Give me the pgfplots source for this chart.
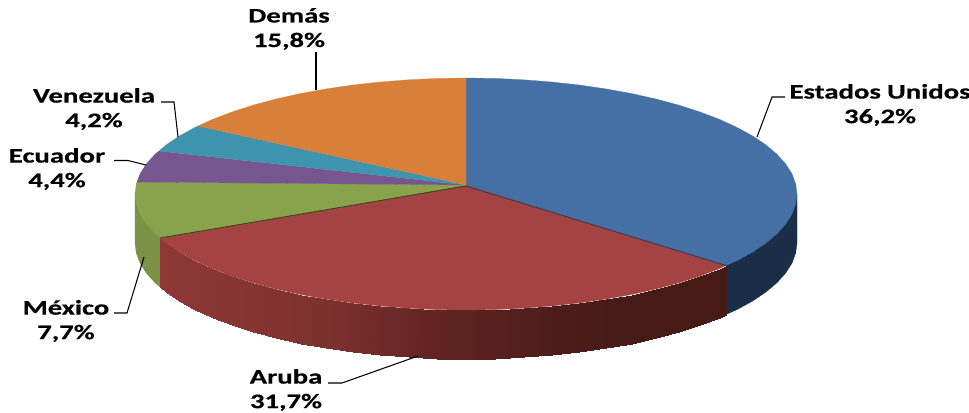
\documentclass[border=0pt]{standalone}
\usepackage{fontspec}
\setmainfont[FakeStretch=1.39,BoldFeatures={FakeBold=0.4}]{Carlito}
\usepackage{pgfplots}
\pgfplotsset{compat=1.18}
\definecolor{cblue}{RGB}{68,112,165}
\definecolor{cblueside}{RGB}{26,46,71}
\definecolor{cred}{RGB}{165,67,66}
\definecolor{cgreen}{RGB}{137,163,76}
\definecolor{cgreenside}{RGB}{122,145,70}
\definecolor{cpurple}{RGB}{117,86,142}
\definecolor{cteal}{RGB}{63,149,174}
\definecolor{corange}{RGB}{216,128,58}
\tikzset{lbl/.style={font=\bfseries\fontsize{15.5}{18.4}\selectfont,align=center,text=black,inner sep=0pt}}
\begin{document}
\begin{tikzpicture}
\useasboundingbox (0,0) rectangle (726.75pt,309pt);
\begin{axis}[
    at={(0,0)}, anchor=south west,
    width=726.75pt, height=309pt, scale only axis,
    xmin=0, xmax=969, ymin=0, ymax=412,
    y dir=reverse,
    hide axis,
    no markers,
    clip=false,
    colormap={sidered}{rgb255(160pt)=(142,56,54) rgb255(330pt)=(124,49,47) rgb255(420pt)=(100,37,35) rgb255(560pt)=(76,28,26) rgb255(650pt)=(69,26,23) rgb255(726pt)=(69,26,23)},
]
% side walls
\addplot[fill=cblueside,draw=cblueside,line width=0.2pt] coordinates {
(797,194)(797,243)(795.7,253.1)(792,263.1)(785.7,273)(777,282.7)(766,292)(752.7,301)(737.2,309.5)(726,314.5)(726,265.5)
} --cycle;
\addplot[fill=cgreenside,draw=cgreenside,line width=0.2pt] coordinates {
(135,194)(135,243)(136.3,253)(140,263)(146.3,273)(155,282.7)(160,287)(160,238)
} --cycle;
\addplot[surf,shader=interp,mesh/rows=2,point meta=x,point meta min=160,point meta max=726] table {
x y
160 238
166 243
179.3 252
194.8 260.5
212.5 268.6
231.9 276
253.2 282.9
276.1 289
300.5 294.5
326.1 299.1
352.8 303
380.3 306
408.5 308.2
437.1 309.6
466 310
494.9 309.6
523.5 308.2
551.7 306
579.2 303
605.9 299.1
631.5 294.5
655.9 289
678.8 282.9
700.1 276
719.5 268.6
726 265.5
160 287
166 292
179.3 301
194.8 309.5
212.5 317.6
231.9 325
253.2 331.9
276.1 338
300.5 343.5
326.1 348.1
352.8 352
380.3 355
408.5 357.2
437.1 358.6
466 359
494.9 358.6
523.5 357.2
551.7 355
579.2 352
605.9 348.1
631.5 343.5
655.9 338
678.8 331.9
700.1 325
719.5 317.6
726 314.5
};
% top face
\addplot[fill=cblue,draw=cblue,line width=0.2pt] coordinates {
(466,185)(466,78)(494.9,78.4)(523.5,79.8)(551.7,82)(579.2,85)(605.9,88.9)(631.5,93.5)(655.9,99)(678.8,105.1)(700.1,112)(719.5,119.4)(737.2,127.5)(752.7,136)(766,145)(777,154.3)(785.7,164)(792,173.9)(795.7,183.9)(797,194)(795.7,204.1)(792,214.1)(785.7,224)(777,233.7)(766,243)(752.7,252)(737.2,260.5)(726,265.5)
} --cycle;
\addplot[fill=cred,draw=cred,line width=0.2pt] coordinates {
(466,185)(726,265.5)(719.5,268.6)(700.1,276)(678.8,282.9)(655.9,289)(631.5,294.5)(605.9,299.1)(579.2,303)(551.7,306)(523.5,308.2)(494.9,309.6)(466,310)(437.1,309.6)(408.5,308.2)(380.3,306)(352.8,303)(326.1,299.1)(300.5,294.5)(276.1,289)(253.2,282.9)(231.9,276)(212.5,268.6)(194.8,260.5)(179.3,252)(166,243)(160,238)
} --cycle;
\addplot[fill=cgreen,draw=cgreen,line width=0.2pt] coordinates {
(466,185)(160,238)(155,233.7)(146.3,224)(140,214)(136.3,204)(135,194)(136.3,183.9)(137,182)
} --cycle;
\addplot[fill=cpurple,draw=cpurple,line width=0.2pt] coordinates {
(466,185)(137,182)(140,173.9)(146.3,164)(155,154.3)(159,151)
} --cycle;
\addplot[fill=cteal,draw=cteal,line width=0.2pt] coordinates {
(466,185)(159,151)(166,145)(179.3,136)(194.8,127.5)(198,126)
} --cycle;
\addplot[fill=corange,draw=corange,line width=0.2pt] coordinates {
(466,185)(198,126)(212.5,119.4)(231.9,112)(253.2,105.1)(276.1,99)(300.5,93.5)(326.1,88.9)(352.8,85)(380.3,82)(408.5,79.8)(437.1,78.4)(466,78)
} --cycle;
% dark seams
\addplot[color=cblueside!70!cblue,line width=0.7pt] coordinates {(466,186)(726,265.5)};
\addplot[color=black!55!cgreen,line width=0.7pt] coordinates {(466,186)(160,238)};
% leader lines
\addplot[black,line width=0.8pt] coordinates {(316,90)(316,52)};
\addplot[black,line width=0.8pt] coordinates {(178,137)(174,102)(161,102)};
\addplot[black,line width=0.8pt] coordinates {(146,165)(128,160.5)(114,160.5)};
\addplot[black,line width=0.8pt] coordinates {(757,137)(772,97)(785,97)};
\addplot[black,line width=0.8pt] coordinates {(144,257)(127,313)(114,313)};
\addplot[black,line width=0.8pt] coordinates {(418,356)(342,383)(328,383)};
% labels
\node[lbl] at (axis cs:289,29) {Demás\\15,8\%};
\node[lbl] at (axis cs:94,109) {Venezuela\\4,2\%};
\node[lbl] at (axis cs:57,169) {Ecuador\\4,4\%};
\node[lbl] at (axis cs:880,105) {Estados\hspace{0.3em}Unidos\\36,2\%};
\node[lbl] at (axis cs:66,321) {México\\7,7\%};
\node[lbl] at (axis cs:286,390) {Aruba\\31,7\%};
\end{axis}
\end{tikzpicture}
\end{document}
